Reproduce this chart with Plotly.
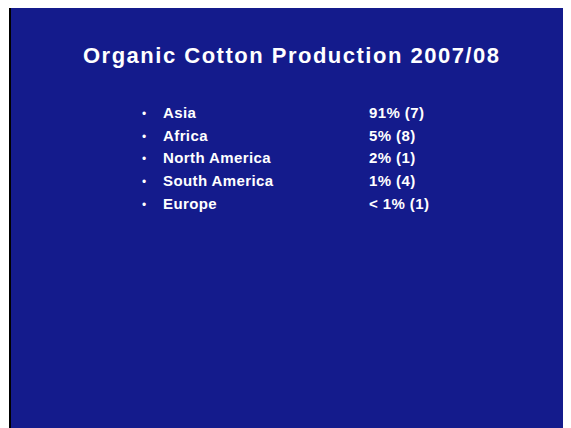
import plotly.graph_objects as go

title_text = "Organic Cotton Production 2007/08"
regions = ["Asia", "Africa", "North America", "South America", "Europe"]
shares = ["91% (7)", "5% (8)", "2% (1)", "1% (4)", "< 1% (1)"]

W, H = 571, 428
OFF = 8  # page body margin offset
BLUE = "#141B8C"
FONT = "Liberation Sans, Arial, sans-serif"


def spaced(txt, ls):
    return '<span style="letter-spacing:%spx"><b>%s</b></span>' % (ls, txt)


fig = go.Figure()

# slide background with black border
fig.add_shape(type="rect", x0=10, y0=5, x1=W + 40, y1=H + 40,
              xref="x", yref="y", line=dict(color="black", width=2),
              fillcolor=BLUE, layer="below")

# title
fig.add_annotation(x=291, y=55, xref="x", yref="y", text=spaced(title_text, 1.5),
                   showarrow=False, xanchor="center", yanchor="middle",
                   font=dict(family=FONT, size=22, color="white"))

row0, step = 112.3, 22.75
for i, (r, s) in enumerate(zip(regions, shares)):
    y = row0 + i * step
    fig.add_annotation(x=144, y=y + 1.5, xref="x", yref="y", text="•", showarrow=False,
                       xanchor="center", yanchor="middle",
                       font=dict(family=FONT, size=12, color="white"))
    fig.add_annotation(x=161, y=y, xref="x", yref="y", text=spaced(r, 0.4),
                       showarrow=False, xanchor="left", yanchor="middle",
                       font=dict(family=FONT, size=15, color="white"))
    fig.add_annotation(x=366.5, y=y, xref="x", yref="y", text=spaced(s, 0.4),
                       showarrow=False, xanchor="left", yanchor="middle",
                       font=dict(family=FONT, size=15, color="white"))

FW, FH = W + OFF, H + OFF
fig.update_layout(
    width=FW, height=FH, margin=dict(l=0, r=0, t=0, b=0),
    paper_bgcolor="white", plot_bgcolor="white", showlegend=False,
    xaxis=dict(range=[OFF, OFF + FW], visible=False, fixedrange=True),
    yaxis=dict(range=[OFF + FH, OFF], visible=False, fixedrange=True),
)

fig.write_html("out.html", config={"displayModeBar": False})
